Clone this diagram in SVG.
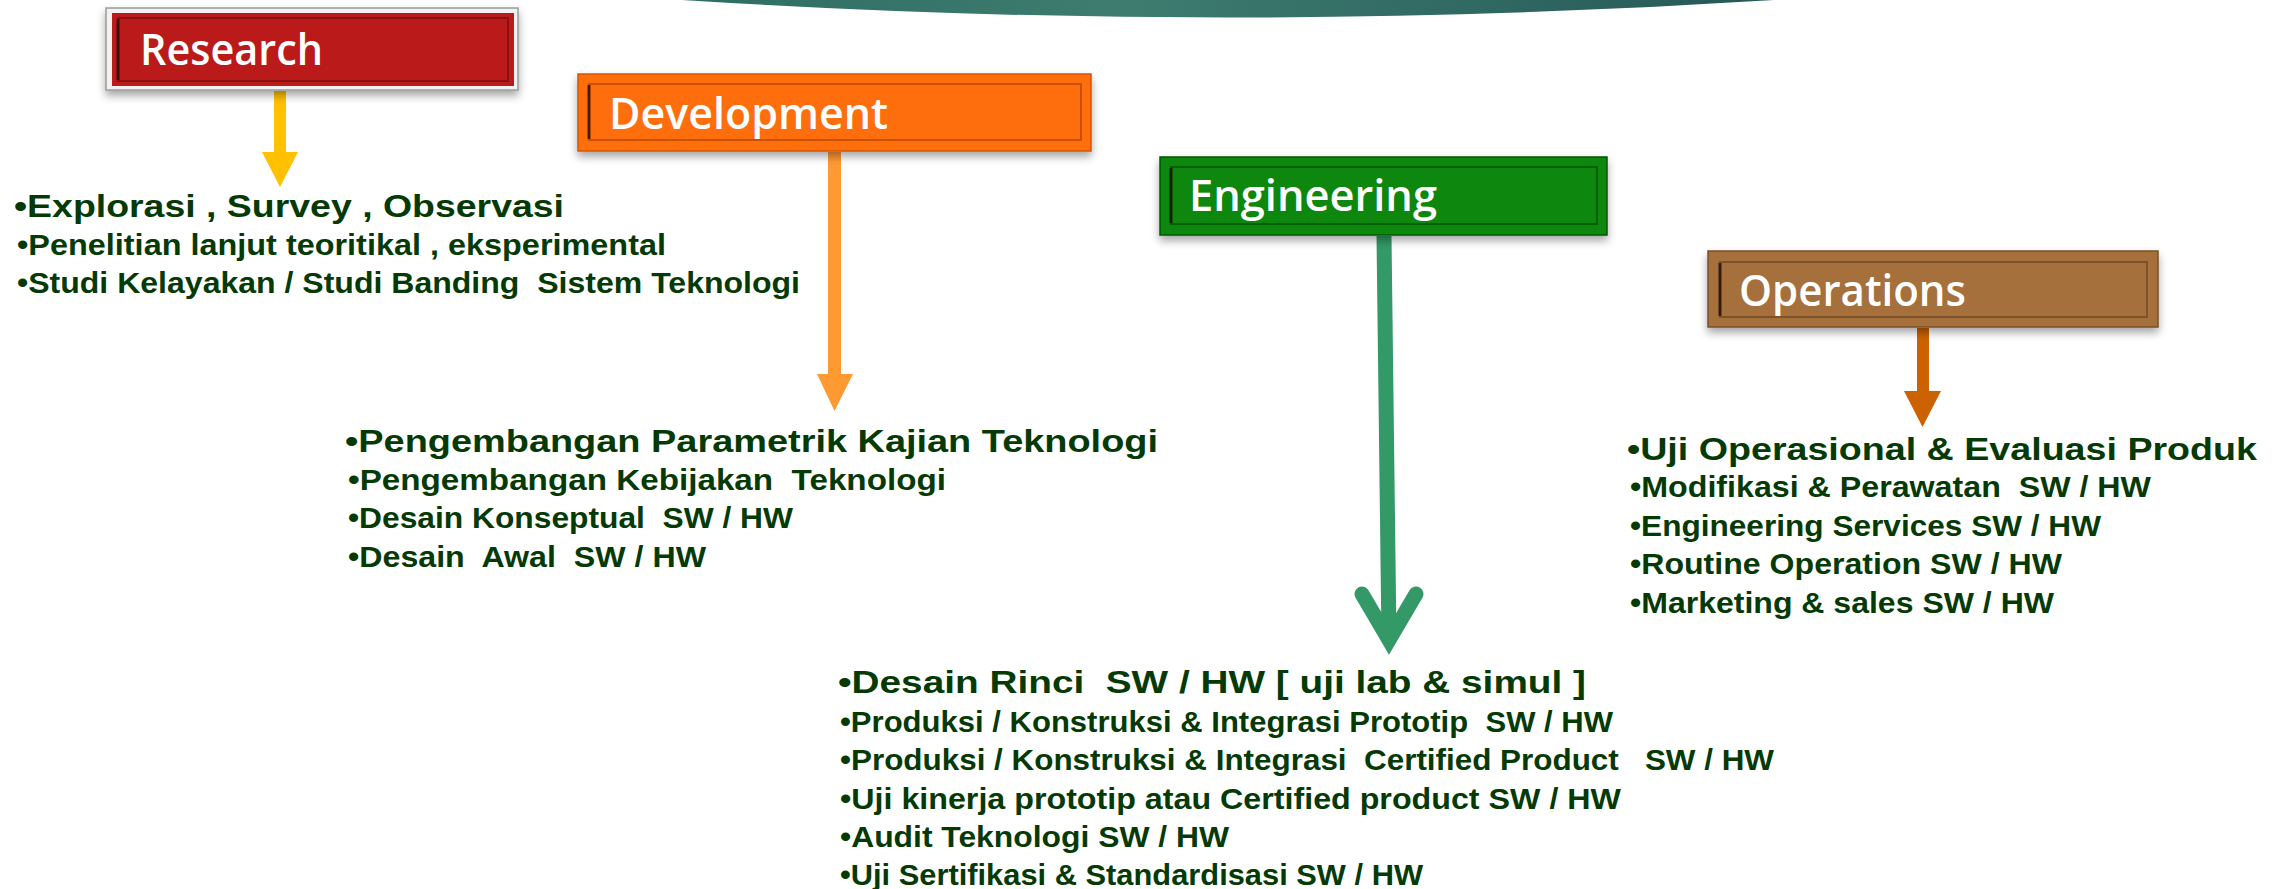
<svg xmlns="http://www.w3.org/2000/svg" width="2285" height="889" viewBox="0 0 2285 889">
<defs>
<linearGradient id="arcGrad" x1="0" y1="0" x2="1" y2="0">
<stop offset="0" stop-color="#2f6c62"/>
<stop offset="0.4" stop-color="#3e7c70"/>
<stop offset="1" stop-color="#255857"/>
</linearGradient>
<filter id="shadow" x="-10%" y="-20%" width="120%" height="160%">
<feDropShadow dx="0" dy="5" stdDeviation="4" flood-color="#000" flood-opacity="0.35"/>
</filter>
</defs>
<style>
text{white-space:pre}
.lbl{font-family:"Open Sans","Noto Sans",sans-serif;font-weight:600;font-size:44px;fill:#ffffff}
.t1{font-family:"Liberation Sans",Arial,sans-serif;font-weight:bold;font-size:31px;fill:#053a05}
.t2{font-family:"Liberation Sans",Arial,sans-serif;font-weight:bold;font-size:30px;fill:#053a05}
.bevel{fill:none;stroke-width:2}
.edge{stroke:#1a0a00;stroke-width:3;stroke-opacity:0.75}
</style>
<rect x="0" y="0" width="2285" height="889" fill="#ffffff"/>
<path d="M 682 0 Q 1228 35 1774 0 Z" fill="url(#arcGrad)"/>

<g id="connectors">
<line x1="280" y1="91" x2="280" y2="154" stroke="#FFC000" stroke-width="12"/>
<polygon points="262,152 298,152 280,187" fill="#FFC000"/>
<line x1="834.5" y1="152" x2="834.5" y2="376" stroke="#FF9A33" stroke-width="13"/>
<polygon points="817,374 853,374 834.5,411" fill="#FF9A33"/>
<line x1="1384" y1="236" x2="1389" y2="640" stroke="#339966" stroke-width="15"/>
<polyline points="1362,594 1389,640 1416,594" fill="none" stroke="#339966" stroke-width="15" stroke-linecap="round" stroke-linejoin="miter" stroke-miterlimit="10"/>
<line x1="1923" y1="328" x2="1923" y2="393" stroke="#CC6100" stroke-width="12"/>
<polygon points="1904,391 1941,391 1922.5,427" fill="#CC6100"/>
</g>

<g id="research">
<rect x="106" y="8" width="412" height="82" fill="#f2f2f2" stroke="#9a9a9a" stroke-width="1.5" filter="url(#shadow)"/>
<rect x="112" y="13" width="402" height="73" fill="#BB1A1A"/>
<rect x="118" y="18" width="390" height="63" class="bevel" stroke="#8c1010"/>
<line x1="118" y1="19" x2="118" y2="80" class="edge"/>
<text x="140" y="65" class="lbl" textLength="183" lengthAdjust="spacingAndGlyphs">Research</text>
<text x="14" y="217" class="t1" textLength="550" lengthAdjust="spacingAndGlyphs">•Explorasi , Survey , Observasi</text>
<text x="17" y="255" class="t2" textLength="649" lengthAdjust="spacingAndGlyphs">•Penelitian lanjut teoritikal , eksperimental</text>
<text x="17" y="293" class="t2" textLength="783" lengthAdjust="spacingAndGlyphs">•Studi Kelayakan / Studi Banding  Sistem Teknologi</text>
</g>

<g id="development">
<rect x="578" y="74" width="513" height="77" fill="#FF6E0C" stroke="#d85400" stroke-width="1.5" filter="url(#shadow)"/>
<rect x="589" y="84" width="492" height="56" class="bevel" stroke="#c95000"/>
<line x1="589" y1="85" x2="589" y2="139" class="edge"/>
<text x="609" y="129" class="lbl" textLength="279" lengthAdjust="spacingAndGlyphs">Development</text>
<text x="345" y="452" class="t1" textLength="813" lengthAdjust="spacingAndGlyphs">•Pengembangan Parametrik Kajian Teknologi</text>
<text x="348" y="490" class="t2" textLength="598" lengthAdjust="spacingAndGlyphs">•Pengembangan Kebijakan  Teknologi</text>
<text x="348" y="528" class="t2" textLength="445" lengthAdjust="spacingAndGlyphs">•Desain Konseptual  SW / HW</text>
<text x="348" y="567" class="t2" textLength="358" lengthAdjust="spacingAndGlyphs">•Desain  Awal  SW / HW</text>
</g>

<g id="engineering">
<rect x="1160" y="157" width="447" height="78" fill="#078707" stroke="#045a04" stroke-width="1.5" filter="url(#shadow)"/>
<rect x="1171" y="167" width="426" height="57" class="bevel" stroke="#046004"/>
<line x1="1171" y1="168" x2="1171" y2="223" class="edge"/>
<text x="1189" y="211" class="lbl" textLength="248" lengthAdjust="spacingAndGlyphs">Engineering</text>
<text x="838" y="693" class="t1" textLength="748" lengthAdjust="spacingAndGlyphs">•Desain Rinci  SW / HW [ uji lab &amp; simul ]</text>
<text x="840" y="732" class="t2" textLength="773" lengthAdjust="spacingAndGlyphs">•Produksi / Konstruksi &amp; Integrasi Prototip  SW / HW</text>
<text x="840" y="770" class="t2" textLength="934" lengthAdjust="spacingAndGlyphs">•Produksi / Konstruksi &amp; Integrasi  Certified Product   SW / HW</text>
<text x="840" y="809" class="t2" textLength="781" lengthAdjust="spacingAndGlyphs">•Uji kinerja prototip atau Certified product SW / HW</text>
<text x="840" y="847" class="t2" textLength="389" lengthAdjust="spacingAndGlyphs">•Audit Teknologi SW / HW</text>
<text x="840" y="885" class="t2" textLength="583" lengthAdjust="spacingAndGlyphs">•Uji Sertifikasi &amp; Standardisasi SW / HW</text>
</g>

<g id="operations">
<rect x="1708" y="251" width="450" height="76" fill="#A5703B" stroke="#7a4f24" stroke-width="1.5" filter="url(#shadow)"/>
<rect x="1720" y="262" width="427" height="55" class="bevel" stroke="#7d5228"/>
<line x1="1720" y1="263" x2="1720" y2="316" class="edge"/>
<text x="1739" y="306" class="lbl" textLength="227" lengthAdjust="spacingAndGlyphs">Operations</text>
<text x="1627" y="460" class="t1" textLength="630" lengthAdjust="spacingAndGlyphs">•Uji Operasional &amp; Evaluasi Produk</text>
<text x="1630" y="497" class="t2" textLength="521" lengthAdjust="spacingAndGlyphs">•Modifikasi &amp; Perawatan  SW / HW</text>
<text x="1630" y="536" class="t2" textLength="471" lengthAdjust="spacingAndGlyphs">•Engineering Services SW / HW</text>
<text x="1630" y="574" class="t2" textLength="432" lengthAdjust="spacingAndGlyphs">•Routine Operation SW / HW</text>
<text x="1630" y="613" class="t2" textLength="424" lengthAdjust="spacingAndGlyphs">•Marketing &amp; sales SW / HW</text>
</g>
</svg>
